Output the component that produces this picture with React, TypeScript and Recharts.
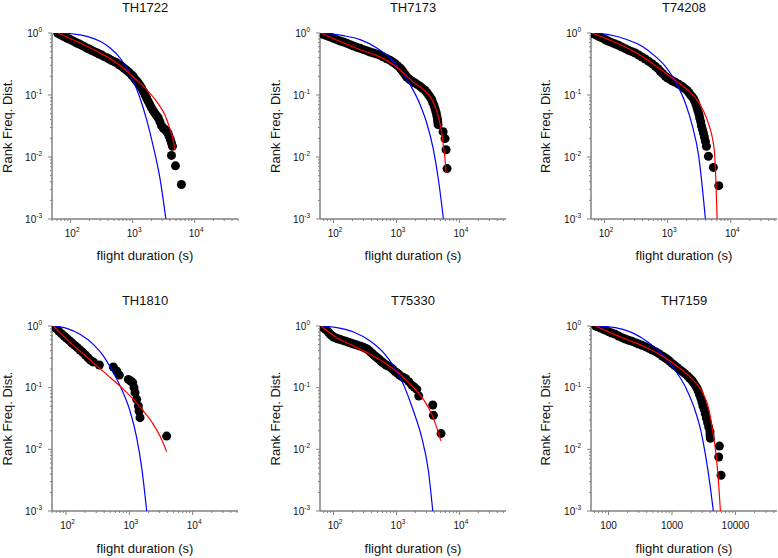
import React from 'react';
import { ComposedChart, Scatter, Line, XAxis, YAxis } from 'recharts';

type Pt = [number, number];

const titles = ['TH1722', 'TH7173', 'T74208', 'TH1810', 'T75330', 'TH7159'];

// TH1722
const th1722Dots: Pt[] = [
  [61.8, 1.0], [65, 0.975], [68.2, 0.94], [72.6, 0.917], [77.3, 0.88], [82, 0.861], [87.4, 0.83],
  [95.2, 0.8], [105, 0.76], [114.5, 0.725], [126, 0.69], [138, 0.665], [152, 0.63], [166, 0.602],
  [183, 0.57], [199, 0.552], [220, 0.52], [240, 0.5], [264, 0.48], [288, 0.458], [318, 0.44],
  [347, 0.415], [383, 0.4], [417, 0.381], [460, 0.36], [502, 0.345], [554, 0.33], [604, 0.308],
  [666, 0.29], [726, 0.269], [801, 0.25], [874, 0.232], [964, 0.21], [1025, 0.198], [1090, 0.18],
  [1159, 0.168], [1233, 0.156], [1312, 0.143], [1394, 0.13], [1483, 0.115], [1577, 0.101],
  [1679, 0.0895], [1783, 0.079], [1898, 0.0698], [2017, 0.062], [2147, 0.0559], [2281, 0.051],
  [2428, 0.0464], [2580, 0.043], [2748, 0.0371], [2917, 0.032], [3105, 0.0294], [3300, 0.028],
  [3510, 0.0259], [3732, 0.024], [3873, 0.0215], [4070, 0.019], [4226, 0.0168], [4385, 0.0149],
  [4226, 0.0106], [4898, 0.0072], [6110, 0.0036],
];
const th1722Fit: Pt[] = [
  [61.8, 1.0], [162, 0.648], [299, 0.476], [554, 0.328], [1025, 0.195], [1679, 0.122], [2428, 0.079],
  [3300, 0.048], [3972, 0.029], [4490, 0.019], [4775, 0.0131],
];
const th1722Exp: Pt[] = [
  [61.8, 1.0], [112, 0.963], [183, 0.884], [299, 0.734], [433, 0.573], [626, 0.395], [801, 0.272],
  [1025, 0.166], [1312, 0.0895], [1679, 0.04], [2148, 0.0149], [2748, 0.00459], [3428, 0.00101],
];

// TH7173
const th7173Dots: Pt[] = [
  [63, 1.0], [66, 0.975], [69.3, 0.952], [73.8, 0.929], [78.4, 0.906], [85.3, 0.873], [94.2, 0.841],
  [102.5, 0.81], [113, 0.781], [128, 0.743], [144, 0.716], [163, 0.681], [184, 0.648], [208, 0.617],
  [235, 0.587], [265, 0.566], [299, 0.538], [338, 0.519], [382, 0.494], [432, 0.476], [488, 0.458],
  [551, 0.436], [622, 0.41], [703, 0.385], [793, 0.362], [875, 0.341], [952, 0.32], [1038, 0.297],
  [1143, 0.272], [1216, 0.253], [1291, 0.232], [1374, 0.213], [1459, 0.195], [1571, 0.183],
  [1690, 0.172], [1817, 0.164], [1978, 0.156], [2155, 0.147], [2377, 0.138], [2588, 0.128],
  [2852, 0.119], [3029, 0.11], [3222, 0.101], [3420, 0.0929], [3640, 0.084], [3774, 0.0752],
  [3963, 0.067], [4109, 0.0594], [4266, 0.0525], [4365, 0.0464], [4479, 0.041], [4530, 0.0371],
  [4584, 0.0332], [5508, 0.0256], [5920, 0.0198], [6142, 0.0131], [6370, 0.0065],
];
const th7173Fit: Pt[] = [
  [63, 1.0], [144, 0.69], [265, 0.538], [488, 0.431], [896, 0.308], [1291, 0.226], [1862, 0.16],
  [2685, 0.122], [3423, 0.095], [4109, 0.0656], [4757, 0.04], [5243, 0.0244], [5572, 0.0149],
  [5920, 0.00906], [6142, 0.00552],
];
const th7173Exp: Pt[] = [
  [63, 1.0], [144, 0.906], [265, 0.781], [488, 0.573], [793, 0.395], [1143, 0.256], [1648, 0.147],
  [2377, 0.0698], [3027, 0.0353], [3864, 0.0131], [4645, 0.0043], [5572, 0.00101],
];

// T74208
const t74208Dots: Pt[] = [
  [63, 1.0], [66, 0.988], [69.3, 0.963], [74.6, 0.929], [80.3, 0.884], [87.4, 0.851], [96.4, 0.81],
  [105, 0.771], [116, 0.734], [131, 0.698], [148, 0.665], [167, 0.632], [188, 0.595], [213, 0.559],
  [240, 0.525], [272, 0.5], [307, 0.476], [347, 0.442], [392, 0.41], [442, 0.381], [499, 0.349],
  [564, 0.32], [637, 0.29], [703, 0.266], [765, 0.241], [834, 0.221], [919, 0.2], [1000, 0.188],
  [1103, 0.177], [1200, 0.168], [1324, 0.16], [1496, 0.149], [1690, 0.138], [1840, 0.128],
  [2028, 0.119], [2155, 0.11], [2293, 0.101], [2432, 0.094], [2590, 0.0862], [2714, 0.078],
  [2820, 0.0698], [2924, 0.0617], [3030, 0.0545], [3144, 0.0482], [3220, 0.0426], [3342, 0.0371],
  [3420, 0.032], [3550, 0.0279], [3680, 0.0244], [3820, 0.021], [3960, 0.0179], [4110, 0.0149],
  [4420, 0.0103], [5310, 0.0068], [6450, 0.00345],
];
const t74208Fit: Pt[] = [
  [63, 1.0], [116, 0.781], [213, 0.595], [392, 0.42], [720, 0.272], [1172, 0.188], [1905, 0.13],
  [2748, 0.0895], [3727, 0.0545], [4584, 0.0312], [5176, 0.019], [5572, 0.0103], [5850, 0.00336],
  [6067, 0.00101],
];
const t74208Exp: Pt[] = [
  [63, 1.0], [116, 0.94], [213, 0.8], [392, 0.61], [637, 0.42], [919, 0.29], [1324, 0.166],
  [1905, 0.0743], [2432, 0.0332], [3105, 0.0103], [3960, 0.00101],
];

// TH1810
const th1810Dots: Pt[] = [
  [63, 1.0], [69.5, 0.917], [76.6, 0.83], [84.4, 0.751], [93, 0.689], [102.4, 0.631], [113, 0.578],
  [124, 0.53], [137, 0.486], [151, 0.446], [166, 0.408], [183, 0.374], [202, 0.339], [222, 0.306],
  [245, 0.277], [270, 0.261], [336, 0.233], [558, 0.216], [631, 0.186], [695, 0.16], [964, 0.136],
  [1050, 0.128], [1129, 0.121], [1185, 0.1], [1229, 0.083], [1305, 0.0647], [1387, 0.0504],
  [1422, 0.0418], [1473, 0.0326], [3882, 0.0164],
];
const th1810Fit: Pt[] = [
  [63, 1.0], [102.4, 0.608], [166, 0.393], [270, 0.254], [439, 0.164], [757, 0.1], [1156, 0.0647],
  [1663, 0.0418], [2393, 0.0254], [3050, 0.0164], [3882, 0.00917],
];
const th1810Exp: Pt[] = [
  [63, 1.0], [102.4, 0.917], [166, 0.733], [270, 0.504], [388, 0.327], [558, 0.175], [757, 0.094],
  [1025, 0.0418], [1305, 0.0155], [1567, 0.00504], [1880, 0.001],
];

// T75330
const t75330Dots: Pt[] = [
  [63, 1.0], [66, 0.975], [69.3, 0.94], [73.8, 0.894], [78.4, 0.851], [83.4, 0.789], [88.5, 0.733],
  [94.2, 0.697], [100, 0.663], [109, 0.639], [120, 0.615], [131, 0.6], [144, 0.578], [157, 0.564],
  [173, 0.543], [188, 0.53], [208, 0.511], [226, 0.498], [249, 0.48], [272, 0.468], [299, 0.451],
  [322, 0.435], [347, 0.419], [368, 0.398], [392, 0.374], [416, 0.356], [442, 0.334], [470, 0.318],
  [499, 0.303], [531, 0.288], [564, 0.271], [600, 0.258], [637, 0.245], [686, 0.233], [746, 0.225],
  [813, 0.211], [875, 0.198], [953, 0.182], [1038, 0.171], [1117, 0.16], [1216, 0.151],
  [1307, 0.145], [1407, 0.14], [1570, 0.125], [1751, 0.11], [1906, 0.1026], [2102, 0.094],
  [2261, 0.0733], [3774, 0.0524], [3866, 0.0356], [5113, 0.018],
];
const t75330Fit: Pt[] = [
  [63, 1.0], [113, 0.647], [208, 0.474], [382, 0.347], [703, 0.239], [1143, 0.164], [1862, 0.1],
  [2685, 0.0647], [3640, 0.037], [4365, 0.0225], [5058, 0.0137],
];
const t75330Exp: Pt[] = [
  [63, 1.0], [113, 0.94], [208, 0.8], [382, 0.571], [622, 0.37], [896, 0.225], [1291, 0.113],
  [1862, 0.0418], [2524, 0.0155], [3222, 0.00445], [3774, 0.001],
];

// TH7159
const th7159Dots: Pt[] = [
  [63, 1.0], [66, 0.988], [69.3, 0.963], [75.5, 0.929], [83.4, 0.883], [90.7, 0.851], [100, 0.809],
  [113, 0.77], [128, 0.733], [144, 0.689], [163, 0.647], [184, 0.615], [208, 0.586], [234, 0.564],
  [265, 0.537], [299, 0.511], [338, 0.486], [382, 0.462], [432, 0.435], [488, 0.408], [551, 0.384],
  [622, 0.356], [703, 0.326], [774, 0.306], [844, 0.288], [919, 0.267], [1012, 0.245], [1103, 0.228],
  [1216, 0.211], [1324, 0.196], [1459, 0.182], [1589, 0.169], [1751, 0.155], [1885, 0.1435],
  [2052, 0.132], [2181, 0.1205], [2317, 0.11], [2464, 0.0988], [2588, 0.0883], [2718, 0.0769],
  [2852, 0.0671], [2960, 0.0586], [3069, 0.0504], [3222, 0.044], [3342, 0.0379], [3467, 0.0322],
  [3640, 0.0271], [3777, 0.023], [3964, 0.0193], [3964, 0.0171], [4012, 0.0151],
  [5572, 0.0113], [5436, 0.0075], [5920, 0.0038],
];
const th7159Fit: Pt[] = [
  [63, 1.0], [113, 0.76], [208, 0.586], [382, 0.456], [703, 0.326], [1291, 0.211], [2102, 0.136],
  [3027, 0.083], [3864, 0.0418], [4365, 0.0198], [4933, 0.0083], [5436, 0.0027], [5780, 0.001],
];
const th7159Exp: Pt[] = [
  [63, 1.0], [128, 0.94], [234, 0.78], [432, 0.537], [703, 0.347], [1143, 0.186], [1648, 0.1],
  [2234, 0.0474], [2852, 0.0198], [3420, 0.00733], [3960, 0.0027], [4477, 0.001],
];

const dotSets = [th1722Dots, th7173Dots, t74208Dots, th1810Dots, t75330Dots, th7159Dots];
const fitSets = [th1722Fit, th7173Fit, t74208Fit, th1810Fit, t75330Fit, th7159Fit];
const expSets = [th1722Exp, th7173Exp, t74208Exp, th1810Exp, t75330Exp, th7159Exp];
const xDomains: [number, number][] = [
  [50, 50000], [61, 55000], [61, 54000], [60, 52000], [61, 55000], [53, 45000],
];
const yDomain: [number, number] = [0.001, 1];

const colLeft = [52, 320, 591];
const rowTop = [33, 326];
const rowHeight = [186, 185];
const plotW = 186;
const titleBase = [11.5, 304.5];
const xLabelBase = [260, 553];
const yLabelBase = [11.5, 279.5, 550];

const AXIS = '#808080';
const FONT = '"Liberation Sans", Arial, sans-serif';

const logTicks = (lo: number, hi: number) => {
  const out: number[] = [];
  for (let e = -3; e <= 5; e++) {
    for (let k = 1; k <= 9; k++) {
      const v = +(k * Math.pow(10, e)).toPrecision(6);
      if (v >= lo * 0.999 && v <= hi * 1.001) out.push(v);
    }
  }
  return out;
};

const isMajor = (v: number) => {
  const lg = Math.log10(v);
  return Math.abs(lg - Math.round(lg)) < 1e-6;
};

const XTick = (props: any) => {
  const { x, y, payload, plain } = props;
  const v = payload.value;
  const major = isMajor(v);
  const e = Math.round(Math.log10(v));
  return (
    <g>
      <line x1={x} x2={x} y1={y} y2={y + (major ? 4 : 2)} stroke={AXIS} strokeWidth={1} />
      {major &&
        (plain ? (
          <text x={x} y={y + 17.5} textAnchor="middle" fontSize={10} fill="#111" fontFamily={FONT}>
            {String(v)}
          </text>
        ) : (
          <text x={x + 1.5} y={y + 17.5} textAnchor="middle" fontSize={10} fill="#111" fontFamily={FONT}>
            <tspan>10</tspan>
            <tspan dy={-4.5} fontSize={6.5}>{e}</tspan>
          </text>
        ))}
    </g>
  );
};

const YTick = (props: any) => {
  const { x, y, payload } = props;
  const v = payload.value;
  const major = isMajor(v);
  const e = Math.round(Math.log10(v));
  return (
    <g>
      <line x1={x - (major ? 4 : 2)} x2={x} y1={y} y2={y} stroke={AXIS} strokeWidth={1} />
      {major && (
        <text x={x - 10} y={y + 3.5} textAnchor="end" fontSize={10} fill="#111" fontFamily={FONT}>
          <tspan>10</tspan>
          <tspan dy={-4.5} fontSize={6.5}>{e}</tspan>
        </text>
      )}
    </g>
  );
};

const Dot = (p: any) => <circle cx={p.cx} cy={p.cy} r={4.5} fill="#000" />;

const toObj = (pts: Pt[]) => pts.map(([x, y]) => ({ x, y }));

const Panel = ({ i }: { i: number }) => {
  const c = i % 3;
  const r = Math.floor(i / 3);
  const left = colLeft[c];
  const top = rowTop[r];
  const h = rowHeight[r];
  const xd = xDomains[i];
  const marginTop = 10;
  const marginRight = 4;
  const w = 52 + plotW + marginRight;
  const ht = marginTop + h + 30;
  const mg = { top: marginTop, right: marginRight, left: 0, bottom: 0 };

  // overlay=true draws only the fit curves, on top of the dots
  const axes = (overlay: boolean) => [
    <XAxis
      key="x"
      dataKey="x"
      type="number"
      scale="log"
      domain={xd}
      allowDataOverflow
      ticks={logTicks(xd[0], xd[1])}
      interval={0}
      tickSize={0}
      tickMargin={0}
      tickLine={false}
      height={30}
      axisLine={overlay ? false : { stroke: AXIS, strokeWidth: 1.5 }}
      tick={overlay ? false : (p: any) => <XTick {...p} plain={i === 5} />}
    />,
    <YAxis
      key="y"
      dataKey="y"
      type="number"
      scale="log"
      domain={yDomain}
      allowDataOverflow
      ticks={logTicks(yDomain[0], yDomain[1])}
      interval={0}
      tickSize={0}
      tickMargin={0}
      tickLine={false}
      width={52}
      axisLine={overlay ? false : { stroke: AXIS, strokeWidth: 1.5 }}
      tick={overlay ? false : (p: any) => <YTick {...p} />}
    />,
  ];

  return (
    <div style={{ position: 'absolute', left: left - 52, top: top - marginTop, width: w, height: ht }}>
      <div style={{ position: 'absolute', left: 0, top: 0 }}>
        <ComposedChart width={w} height={ht} margin={mg}>
          {axes(false)}
          <Scatter data={toObj(dotSets[i])} dataKey="y" shape={Dot} isAnimationActive={false} />
        </ComposedChart>
      </div>
      <div style={{ position: 'absolute', left: 0, top: 0 }}>
        <ComposedChart width={w} height={ht} margin={mg}>
          {axes(true)}
          <Line
            data={toObj(expSets[i])}
            dataKey="y"
            type="monotone"
            stroke="#0000ff"
            strokeWidth={1.2}
            dot={false}
            activeDot={false}
            isAnimationActive={false}
          />
          <Line
            data={toObj(fitSets[i])}
            dataKey="y"
            type="monotone"
            stroke="#ff0000"
            strokeWidth={1.2}
            dot={false}
            activeDot={false}
            isAnimationActive={false}
          />
        </ComposedChart>
      </div>
    </div>
  );
};

export default function App() {
  return (
    <div
      style={{
        position: 'absolute',
        left: 0,
        top: 0,
        width: 778,
        height: 558,
        overflow: 'hidden',
        background: '#fff',
      }}
    >
      {titles.map((_, i) => (
        <Panel key={i} i={i} />
      ))}
      <svg
        width={778}
        height={558}
        style={{ position: 'absolute', left: 0, top: 0, pointerEvents: 'none' }}
        fontFamily={FONT}
      >
        {titles.map((t, i) => {
          const c = i % 3;
          const r = Math.floor(i / 3);
          const cx = colLeft[c] + plotW / 2;
          const cy = rowTop[r] + rowHeight[r] / 2;
          return (
            <g key={t}>
              <text x={cx} y={titleBase[r]} textAnchor="middle" fontSize={13} fill="#111">
                {t}
              </text>
              <text x={cx} y={xLabelBase[r]} textAnchor="middle" fontSize={13} fill="#111">
                flight duration (s)
              </text>
              <text
                x={yLabelBase[c]}
                y={cy}
                textAnchor="middle"
                fontSize={13}
                fill="#111"
                transform={`rotate(-90 ${yLabelBase[c]} ${cy})`}
              >
                Rank Freq. Dist.
              </text>
            </g>
          );
        })}
      </svg>
    </div>
  );
}
